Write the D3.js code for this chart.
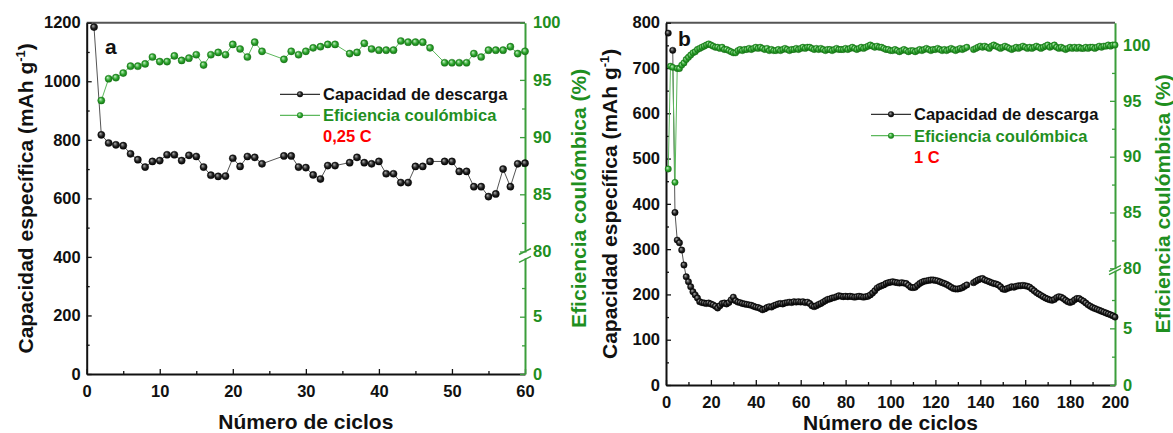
<!DOCTYPE html>
<html>
<head>
<meta charset="utf-8">
<script src="https://cdn.jsdelivr.net/npm/d3@7"></script>
<style>
  body { margin: 0; background: #fff; }
  svg text { font-family: 'Liberation Sans', Arial, sans-serif; font-weight: bold; }
</style>
</head>
<body>
<div id="chart"></div>
<script>
// ---- panel a (0,25 C) : cycles 25, 26, 35, 48 are not in the plot ----
const cyclesA = [1,2,3,4,5,6,7,8,9,10,11,12,13,14,15,16,17,18,19,20,21,22,23,24,
  27,28,29,30,31,32,33,34,
  36,37,38,39,40,41,42,43,44,45,46,47,
  49,50,51,52,53,54,55,56,57,58,59,60];
const capA = [1185,817,789,783,780,752,732,707,726,729,749,749,729,747,743,707,679,675,676,737,709,743,740,718,
  745,745,707,705,680,666,712,712,
  722,740,722,718,726,684,684,654,654,709,709,726,
  726,726,692,692,640,640,606,615,700,640,718,720];
const effA = [null,93.2,95.1,95.2,95.6,96.2,96.2,96.4,97.0,96.6,96.6,97.1,96.7,96.9,97.2,96.3,97.2,97.4,97.2,98.1,97.7,97.0,98.3,97.5,
  96.8,97.5,97.2,97.5,97.8,97.9,98.1,98.1,
  97.3,97.4,98.2,97.7,97.6,97.6,97.6,98.4,98.3,98.3,98.3,97.8,
  96.5,96.5,96.5,96.5,97.3,97.0,97.6,97.6,97.6,97.9,97.3,97.5];

// ---- panel b (1 C) : cycles 1..200 ----
const capB = [777,null,739,381,320,314,298,265,239,228,
  217,206,199,192,184,182,181,180,181,179,
  177,174,170,175,180,181,179,182,188,194,
  186,183,182,180,179,178,177,176,174,172,
  171,169,166,168,171,173,172,175,177,179,
  180,179,181,182,183,182,184,183,184,183,
  184,182,183,180,175,173,175,178,180,183,
  186,189,190,192,193,195,197,196,195,196,
  195,196,195,194,195,196,195,194,195,196,
  199,203,208,214,217,219,221,224,226,227,
  228,227,226,225,226,225,224,220,216,215,
  216,220,224,227,229,230,231,232,232,231,
  230,228,226,224,222,219,216,213,212,212,
  213,215,218,221,null,null,226,229,232,234,
  235,232,230,228,226,224,223,221,217,212,
  211,213,215,217,216,218,219,219,220,219,
  218,216,212,208,204,201,198,195,192,190,
  188,187,189,193,195,194,191,187,184,182,
  184,188,191,191,188,185,181,177,174,171,
  169,167,165,163,161,159,157,155,153,150];
const effB = [88.9,98.1,98.0,87.7,97.9,97.9,98.2,98.4,98.7,98.9,
  99.1,99.3,99.4,99.6,99.7,99.8,99.9,100.0,100.1,100.0,
  99.9,99.8,99.8,99.7,99.8,99.6,99.6,99.5,99.4,99.3,
  99.3,99.5,99.6,99.5,99.6,99.6,99.7,99.6,99.7,99.8,
  99.7,99.8,99.7,99.6,99.7,99.5,99.6,99.5,99.5,99.6,
  99.5,99.6,99.7,99.6,99.5,99.6,99.6,99.7,99.6,99.7,
  99.8,99.7,99.8,99.8,99.7,99.6,99.7,99.6,99.7,99.6,
  99.5,99.6,99.6,99.5,99.6,99.7,99.6,99.6,99.6,99.7,
  99.6,99.7,99.8,99.7,99.6,99.7,99.8,99.7,99.8,99.9,
  100.0,99.9,99.8,99.9,99.8,99.8,99.7,99.6,99.6,99.5,
  99.5,99.6,99.5,99.4,99.5,99.6,99.5,99.4,99.5,99.5,
  99.4,99.5,99.6,99.5,99.6,99.7,99.6,99.5,99.6,99.6,
  99.7,99.6,99.5,99.6,99.5,99.6,99.7,99.6,99.5,99.6,
  99.7,99.6,99.7,99.8,null,null,99.6,99.7,99.8,99.9,
  99.8,99.9,99.8,99.7,99.9,100.0,99.9,99.8,99.7,99.8,
  99.9,99.8,99.7,99.6,99.7,99.8,99.7,99.8,99.9,99.8,
  99.7,99.8,99.7,99.8,99.9,99.8,99.7,99.8,99.9,100.0,
  99.8,99.9,100.0,99.8,99.7,99.8,99.7,99.6,99.7,99.8,
  99.7,99.8,99.7,99.8,99.7,99.7,99.8,99.7,99.8,99.8,
  99.7,99.8,99.9,99.8,99.9,99.9,100.0,99.9,100.0,100.0];
const cyclesB = d3.range(1, capB.length + 1);

// ticks
const capTicksA = [0,200,400,600,800,1000,1200];
const capMinorA = [100,300,500,700,900,1100];
const cycTicksA = [0,10,20,30,40,50,60];
const cycMinorA = [5,15,25,35,45,55];
const capTicksB = [0,100,200,300,400,500,600,700,800];
const capMinorB = [50,150,250,350,450,550,650,750];
const cycTicksB = [0,20,40,60,80,100,120,140,160,180,200];
const cycMinorB = [10,30,50,70,90,110,130,150,170,190];
const effTicks = [0,5,80,85,90,95,100];
const effMinor = [2.5,7.5,82.5,87.5,92.5,97.5];

const legendLabels = ['Capacidad de descarga', 'Eficiencia coulómbica'];

const W = 1173, H = 433;
const green = '#1f8f1f';
const greenAxis = '#3b9e3b';

const svg = d3.select('#chart').append('svg')
  .attr('width', W).attr('height', H);

// sphere-like markers
const defs = svg.append('defs');
function sphere(id, c0, c1, c2) {
  const g = defs.append('radialGradient').attr('id', id)
    .attr('cx', '50%').attr('cy', '50%').attr('r', '55%')
    .attr('fx', '35%').attr('fy', '32%');
  g.append('stop').attr('offset', '0%').attr('stop-color', c0);
  g.append('stop').attr('offset', '55%').attr('stop-color', c1);
  g.append('stop').attr('offset', '100%').attr('stop-color', c2);
}
sphere('ballBlack', '#b0b0b0', '#222', '#000');
sphere('ballGreen', '#c8f0c8', '#2da52d', '#136d13');

function drawPanel(p) {
  const g = svg.append('g');
  const x = d3.scaleLinear().domain(p.xDomain).range([p.x0, p.x1]);
  const yL = d3.scaleLinear().domain(p.capDomain).range([p.y1, p.y0]);
  // broken right axis: 0-10 below the break, 80-top above it
  const yR = d3.scaleLinear().domain([0, 10, 80, p.effTop]).range([p.y1, p.yBreakLo, p.yBreakHi, p.y0]);
  const fmt = d3.format('d');

  // top frame
  g.append('line')
    .attr('x1', p.x0).attr('x2', p.x1).attr('y1', p.y0).attr('y2', p.y0)
    .attr('stroke', '#555').attr('stroke-width', 2);

  const fs = 16.5;
  function styleAxis(a, color) {
    a.select('.domain').attr('stroke', color).attr('stroke-width', 2);
    a.selectAll('.tick line').attr('stroke', color).attr('stroke-width', 1.3);
    a.selectAll('.tick text').attr('fill', color).attr('font-size', fs)
      .attr('font-family', "'Liberation Sans', Arial, sans-serif");
  }
  function minor(axis, vals, tx, color) {
    const a = g.append('g').attr('transform', tx)
      .call(axis.tickValues(vals).tickFormat(() => '').tickSizeInner(-3).tickSizeOuter(0));
    a.select('.domain').remove();
    a.selectAll('.tick line').attr('stroke', color).attr('stroke-width', 1.3);
  }

  // left axis
  minor(d3.axisLeft(yL), p.capMinor, `translate(${p.x0},0)`, '#111');
  const aL = g.append('g').attr('transform', `translate(${p.x0},0)`)
    .call(d3.axisLeft(yL).tickValues(p.capTicks).tickFormat(fmt)
      .tickSizeInner(-5).tickSizeOuter(0).tickPadding(6));
  styleAxis(aL, '#111');

  // bottom axis
  minor(d3.axisBottom(x), p.cycMinor, `translate(0,${p.y1})`, '#111');
  const aB = g.append('g').attr('transform', `translate(0,${p.y1})`)
    .call(d3.axisBottom(x).tickValues(p.cycTicks).tickFormat(fmt)
      .tickSizeInner(-5).tickSizeOuter(0).tickPadding(11));
  styleAxis(aB, '#111');

  // right axis
  minor(d3.axisRight(yR), effMinor, `translate(${p.x1},0)`, greenAxis);
  const aR = g.append('g').attr('transform', `translate(${p.x1},0)`)
    .call(d3.axisRight(yR).tickValues(effTicks).tickFormat(fmt)
      .tickSizeInner(-5).tickSizeOuter(0).tickPadding(8));
  styleAxis(aR, greenAxis);
  aR.selectAll('.tick text').attr('fill', green);

  // axis break mark
  const yb1 = yR(10), yb2 = yR(80);
  g.append('rect').attr('x', p.x1 - 3).attr('y', yb2 + 1).attr('width', 6).attr('height', yb1 - yb2 - 2)
    .attr('fill', '#fff');
  [yb1, yb2].forEach(yy => {
    g.append('line')
      .attr('x1', p.x1 - 6).attr('y1', yy + 3).attr('x2', p.x1 + 6).attr('y2', yy - 3)
      .attr('stroke', greenAxis).attr('stroke-width', 1.5);
  });

  // data
  const capPts = p.cycles.map((c, i) => ({ c, v: p.cap[i] }));
  const effPts = p.cycles.map((c, i) => ({ c, v: p.eff[i] }));

  const lineL = d3.line().x(d => x(d.c)).y(d => yL(d.v));
  const lineR = d3.line().x(d => x(d.c)).y(d => yR(d.v));
  if (p.breakGaps) {
    lineL.defined(d => d.v != null);
    lineR.defined(d => d.v != null);
  }
  const capUse = p.breakGaps ? capPts : capPts.filter(d => d.v != null);
  const effUse = p.breakGaps ? effPts : effPts.filter(d => d.v != null);

  g.append('path').datum(capUse).attr('d', lineL)
    .attr('fill', 'none').attr('stroke', '#555').attr('stroke-width', 1);
  g.append('path').datum(effUse).attr('d', lineR)
    .attr('fill', 'none').attr('stroke', '#5cb85c').attr('stroke-width', 1);

  g.selectAll('.capDot').data(capPts.filter(d => d.v != null)).enter().append('circle')
    .attr('class', 'capDot')
    .attr('cx', d => x(d.c)).attr('cy', d => yL(d.v)).attr('r', p.r)
    .attr('fill', 'url(#ballBlack)').attr('stroke', '#000').attr('stroke-width', 0.4);
  g.selectAll('.effDot').data(effPts.filter(d => d.v != null)).enter().append('circle')
    .attr('class', 'effDot')
    .attr('cx', d => x(d.c)).attr('cy', d => yR(d.v)).attr('r', p.r)
    .attr('fill', 'url(#ballGreen)').attr('stroke', '#137313').attr('stroke-width', 0.4);

  // titles
  g.append('text')
    .attr('transform', `translate(${(p.x0 + p.x1) / 2},${p.xTitleY})`)
    .attr('text-anchor', 'middle').attr('font-size', 21).attr('fill', '#111')
    .text('Número de ciclos');

  const tL = g.append('text')
    .attr('transform', `translate(${p.yTitleX},${(p.y0 + p.y1) / 2}) rotate(-90)`)
    .attr('text-anchor', 'middle').attr('font-size', 21).attr('fill', '#111');
  tL.append('tspan').text('Capacidad específica (mAh g');
  tL.append('tspan').attr('dy', -8).attr('font-size', 13).text('-1');
  tL.append('tspan').attr('dy', 8).text(')');

  g.append('text')
    .attr('transform', `translate(${p.effTitleX},${(p.y0 + p.y1) / 2}) rotate(-90)`)
    .attr('text-anchor', 'middle').attr('font-size', 21).attr('fill', green)
    .text('Eficiencia coulómbica (%)');

  // panel letter
  g.append('text').attr('x', p.letterX).attr('y', p.letterY)
    .attr('font-size', 21).attr('fill', '#111').text(p.letter);

  // legend
  const leg = g.append('g');
  const rows = [
    { label: legendLabels[0], stroke: '#333', fill: 'url(#ballBlack)', color: '#111' },
    { label: legendLabels[1], stroke: '#5cb85c', fill: 'url(#ballGreen)', color: green }
  ];
  rows.forEach((row, i) => {
    const yy = p.legY + i * p.legStep;
    leg.append('line').attr('x1', p.legX).attr('x2', p.legX + 40).attr('y1', yy).attr('y2', yy)
      .attr('stroke', row.stroke).attr('stroke-width', 1.2);
    leg.append('circle').attr('cx', p.legX + 20).attr('cy', yy).attr('r', 3)
      .attr('fill', row.fill);
    leg.append('text').attr('x', p.legX + 43).attr('y', yy + 6)
      .attr('font-size', 16.5).attr('fill', row.color).text(row.label);
  });
  leg.append('text').attr('x', p.legX + 43).attr('y', p.legY + 2 * p.legStep + 6)
    .attr('font-size', 16.5).attr('fill', '#ff0000').text(p.rate);
}

drawPanel({
  x0: 86.7, x1: 525, y0: 22.7, y1: 374,
  xDomain: [0, 60], capDomain: [0, 1200], effTop: 100,
  yBreakLo: 259.4, yBreakHi: 251.5,
  capTicks: capTicksA, capMinor: capMinorA, cycTicks: cycTicksA, cycMinor: cycMinorA,
  cycles: cyclesA, cap: capA, eff: effA, breakGaps: false, r: 3.6,
  xTitleY: 429, yTitleX: 33, effTitleX: 586,
  letter: 'a', letterX: 105, letterY: 54,
  legX: 280, legY: 94.3, legStep: 21, rate: '0,25 C'
});

drawPanel({
  x0: 666, x1: 1115, y0: 22.7, y1: 385,
  xDomain: [0, 200], capDomain: [0, 800], effTop: 102,
  yBreakLo: 271.7, yBreakHi: 268.3,
  capTicks: capTicksB, capMinor: capMinorB, cycTicks: cycTicksB, cycMinor: cycMinorB,
  cycles: cyclesB, cap: capB, eff: effB, breakGaps: true, r: 3.2,
  xTitleY: 429.5, yTitleX: 617, effTitleX: 1170,
  letter: 'b', letterX: 678, letterY: 46,
  legX: 871, legY: 114.3, legStep: 21.4, rate: '1 C'
});
</script>
</body>
</html>
